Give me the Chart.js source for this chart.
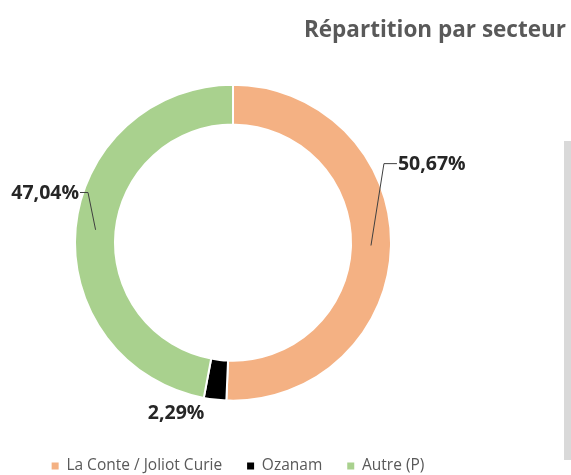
<!DOCTYPE html>
<html><head><meta charset="utf-8">
<script src="https://cdn.jsdelivr.net/npm/chart.js@4.4.1/dist/chart.umd.min.js"></script>
<style>html,body{margin:0;padding:0;background:#fff;}#wrap{width:571px;height:475px;}</style>
</head><body><div id="wrap"><canvas id="c" width="571" height="475"></canvas></div>
<script>
const titleText = 'Répartition par secteur';
const categories = ['La Conte / Joliot Curie', 'Ozanam', 'Autre (P)'];
const values = [50.67, 2.29, 47.04];
const valueLabels = ['50,67%', '2,29%', '47,04%'];
const sliceColors = ['#F4B183', '#000000', '#A9D18E'];

const FONT = "'Open Sans', 'Liberation Sans', sans-serif";

const framePlugin = {
  id: 'frame',
  beforeDraw(chart, args, opts) {
    const ctx = chart.ctx;
    ctx.save();
    ctx.fillStyle = '#ffffff';
    ctx.fillRect(0, 0, chart.width, chart.height);
    ctx.fillStyle = opts.barColor;
    ctx.fillRect(chart.width - opts.barWidth, opts.barTop, opts.barWidth, opts.barBottom - opts.barTop);
    ctx.restore();
  },
  afterLayout(chart, args, opts) {
    const a = chart.chartArea;
    a.right = chart.width - opts.chartReserveRight;
    a.width = a.right - a.left;
    if (chart.legend) {
      chart.legend.right = chart.width - opts.legendReserveRight;
      chart.legend.width = chart.legend.right - chart.legend.left;
    }
  }
};

const sliceLabelPlugin = {
  id: 'sliceLabels',
  afterDatasetsDraw(chart, args, opts) {
    const ctx = chart.ctx;
    const meta = chart.getDatasetMeta(0);
    ctx.save();
    ctx.font = `bold ${opts.size}px ${FONT}`;
    ctx.fillStyle = opts.color;
    ctx.strokeStyle = opts.lineColor;
    ctx.lineWidth = 1;
    meta.data.forEach((arc, i) => {
      const p = opts.placements[i];
      const {x, y, startAngle, endAngle, innerRadius, outerRadius} =
        arc.getProps(['x', 'y', 'startAngle', 'endAngle', 'innerRadius', 'outerRadius'], true);
      const a = (p.angle - 90) * Math.PI / 180;
      const lx = x + Math.cos(a) * p.dist * outerRadius;
      const ly = y + Math.sin(a) * p.dist * outerRadius + p.dy;
      if (p.elbow) {
        const mid = (startAngle + endAngle) / 2;
        const rm = (innerRadius + outerRadius) / 2;
        const sx = x + Math.cos(mid) * rm, sy = y + Math.sin(mid) * rm;
        const dir = p.align === 'left' ? -1 : 1;
        ctx.beginPath();
        ctx.moveTo(sx, sy);
        ctx.lineTo(lx + dir * p.elbow, ly);
        ctx.lineTo(lx + dir * 1, ly);
        ctx.stroke();
      }
      ctx.textAlign = p.align;
      ctx.textBaseline = 'middle';
      ctx.fillText(valueLabels[i], lx, ly + 1);
    });
    ctx.restore();
  }
};

new Chart(document.getElementById('c'), {
  type: 'doughnut',
  data: {
    labels: categories,
    datasets: [{
      data: values,
      backgroundColor: sliceColors,
      borderColor: '#ffffff',
      borderWidth: 2,
      hoverOffset: 0
    }]
  },
  options: {
    responsive: false,
    animation: false,
    events: [],
    radius: 158,
    cutout: '74.7%',
    layout: { padding: { top: 0, bottom: -8.75, left: 0, right: 5 } },
    plugins: {
      tooltip: { enabled: false },
      title: {
        display: true,
        text: titleText,
        align: 'end',
        color: '#595959',
        font: { family: FONT, size: 22.5, weight: 'bold' },
        padding: { top: 17, bottom: 8 }
      },
      legend: {
        position: 'bottom',
        labels: {
          boxWidth: 7,
          boxHeight: 7,
          padding: 25,
          color: '#595959',
          font: { family: FONT, size: 15.5 },
          generateLabels(chart) {
            const items = Chart.overrides.doughnut.plugins.legend.labels.generateLabels(chart);
            items.forEach(it => { it.lineWidth = 0; it.strokeStyle = it.fillStyle; });
            return items;
          }
        }
      },
      frame: {
        chartReserveRight: 105,
        legendReserveRight: 95,
        barColor: '#d9d9d9',
        barWidth: 7,
        barTop: 141,
        barBottom: 460
      },
      sliceLabels: {
        size: 19.5,
        color: '#262626',
        lineColor: '#404040',
        placements: [
          { angle: 63.85, dist: 1.163, align: 'left', elbow: 14, dy: 2 },
          { angle: 198.7, dist: 1.123, align: 'center', elbow: 0, dy: 2 },
          { angle: 288.7, dist: 1.029, align: 'right', elbow: 9, dy: 2 }
        ]
      }
    }
  },
  plugins: [framePlugin, sliceLabelPlugin]
});
</script>
</body></html>
